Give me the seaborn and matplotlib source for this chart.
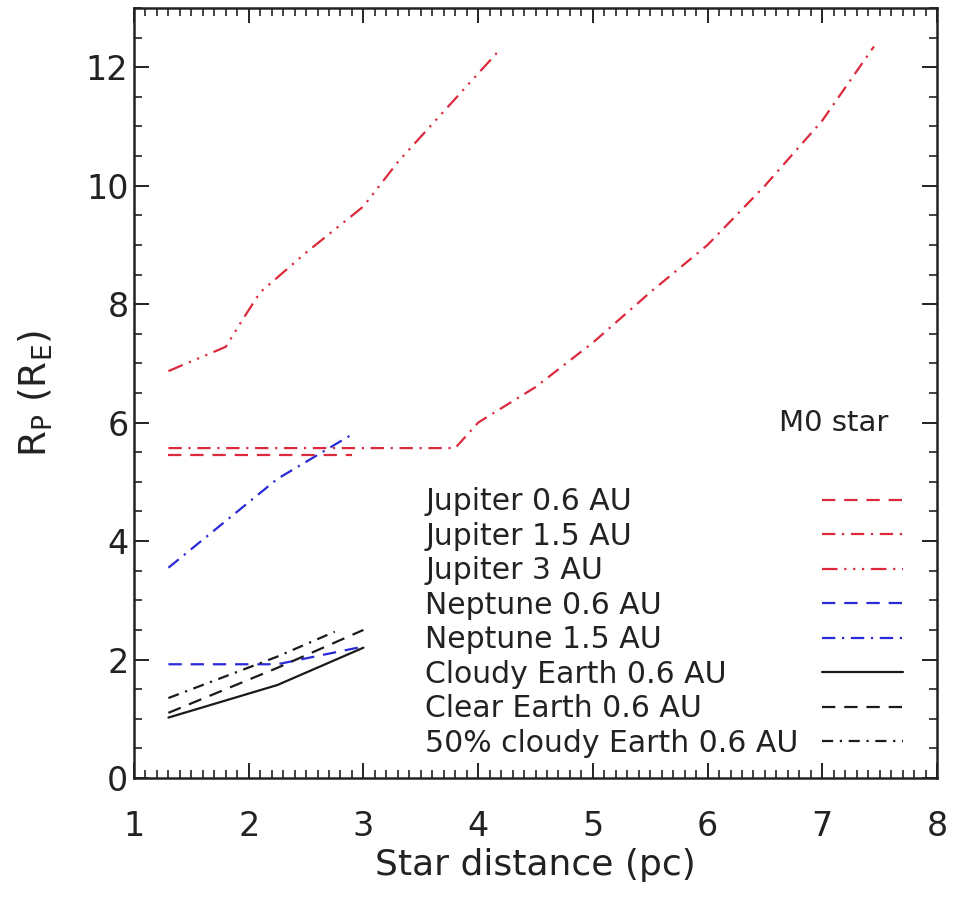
import matplotlib
matplotlib.use("Agg")
import matplotlib.pyplot as plt
from matplotlib.ticker import MultipleLocator
from matplotlib.lines import Line2D
import seaborn as sns

# ---- data ----
jup06_x = [1.3, 2.9]
jup06_y = [5.45, 5.45]

jup15_x = [1.3, 3.8, 4.0, 4.5, 5.0, 5.5, 6.0, 6.5, 7.0, 7.45]
jup15_y = [5.57, 5.57, 6.0, 6.6, 7.35, 8.2, 9.0, 10.0, 11.1, 12.35]

jup3_x = [1.3, 1.8, 1.95, 2.1, 2.5, 3.0, 3.3, 4.2]
jup3_y = [6.87, 7.28, 7.75, 8.2, 8.87, 9.65, 10.4, 12.32]

nep06_x = [1.3, 2.25, 3.0]
nep06_y = [1.92, 1.92, 2.22]

nep15_x = [1.3, 2.25, 2.9]
nep15_y = [3.55, 5.05, 5.8]

cloudy_x = [1.3, 2.25, 3.0]
cloudy_y = [1.02, 1.57, 2.2]

clear_x = [1.3, 2.25, 3.0]
clear_y = [1.1, 1.86, 2.5]

half_x = [1.3, 2.25, 2.75]
half_y = [1.35, 2.05, 2.47]

labels = ["Jupiter 0.6 AU", "Jupiter 1.5 AU", "Jupiter 3 AU",
          "Neptune 0.6 AU", "Neptune 1.5 AU", "Cloudy Earth 0.6 AU",
          "Clear Earth 0.6 AU", "50% cloudy Earth 0.6 AU"]

xticks = [1, 2, 3, 4, 5, 6, 7, 8]
yticks = [0, 2, 4, 6, 8, 10, 12]

# ---- styles ----
RED = "#dc2a3c"
BLUE = "#2a2ad6"
BLACK = "#1a1a1a"
TXT = "#222222"
dash = (0, (6, 4))
dashdot = (0, (6, 3, 1, 3))
dash3dot = (0, (7, 3, 1, 3, 1, 3, 1, 3))
dashdot_k = (0, (5, 3, 1, 3))

series = [
    (jup06_x, jup06_y, RED, dash),
    (jup15_x, jup15_y, RED, dashdot),
    (jup3_x, jup3_y, RED, dash3dot),
    (nep06_x, nep06_y, BLUE, dash),
    (nep15_x, nep15_y, BLUE, dashdot),
    (cloudy_x, cloudy_y, BLACK, "-"),
    (clear_x, clear_y, BLACK, dash),
    (half_x, half_y, BLACK, dashdot_k),
]

sns.set_theme(style="white")
plt.rcParams["font.family"] = ["DejaVu Sans"]
plt.rcParams["mathtext.default"] = "regular"

fig = plt.figure(figsize=(9.55, 8.98), dpi=100)
ax = fig.add_axes([134 / 955, 1 - 778 / 898, (937 - 134) / 955, (778 - 8) / 898])

for (xs, ys, c, ls), lab in zip(series, labels):
    sns.lineplot(x=xs, y=ys, ax=ax, color=c, linestyle=ls, linewidth=1.6,
                 label=lab, sort=False, estimator=None, legend=False)

ax.set_xlim(1, 8)
ax.set_ylim(0, 13)
ax.set_xticks(xticks)
ax.set_yticks(yticks)
ax.set_xticklabels([str(v) for v in xticks])
ax.set_yticklabels([str(v) for v in yticks])
ax.xaxis.set_minor_locator(MultipleLocator(0.1))
ax.yaxis.set_minor_locator(MultipleLocator(0.5))
ax.tick_params(which="both", direction="in", top=True, right=True,
               bottom=True, left=True, color=TXT)
ax.tick_params(which="major", length=11, width=1.4, labelsize=24,
               labelcolor=TXT)
ax.tick_params(axis="x", which="major", pad=23)
ax.tick_params(axis="y", which="major", pad=4)
ax.tick_params(which="minor", length=5.5, width=1.2)
for s in ax.spines.values():
    s.set_linewidth(1.8)
    s.set_color(TXT)

ax.set_xlabel("Star distance (pc)", fontsize=26, color=TXT, labelpad=4)
ax.set_ylabel(r"R$_{P}$ (R$_{E}$)", fontsize=27, color=TXT, labelpad=22)

ax.text(6.62, 6.0, "M0 star", fontsize=21, color=TXT, va="center", ha="left")

# legend: labels left-aligned on the left, line samples on the right
lines = ax.get_lines()[:len(labels)]
fs = 21.5
lsp = 0.185
ytop = (778 - 487) / 770
leg_text = ax.legend(handles=[Line2D([], [], alpha=0) for _ in labels], labels=labels,
                     loc="upper left", bbox_to_anchor=((425 - 134) / 803, ytop),
                     frameon=False, fontsize=fs, handlelength=0, handletextpad=0,
                     labelspacing=lsp, borderpad=0, borderaxespad=0)
for t in leg_text.get_texts():
    t.set_color(TXT)
ax.add_artist(leg_text)
ax.legend(handles=lines, labels=[""] * len(labels),
          loc="upper right", bbox_to_anchor=((903 - 134) / 803, ytop),
          frameon=False, fontsize=fs, handlelength=2.7, handletextpad=0,
          labelspacing=lsp, borderpad=0, borderaxespad=0)

fig.savefig("out.png", dpi=100, facecolor="white")
